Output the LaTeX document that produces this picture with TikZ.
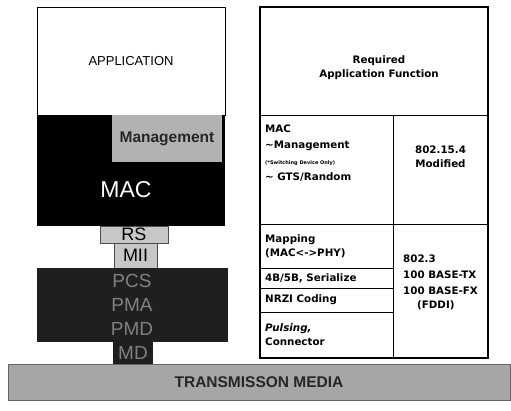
\documentclass[tikz,border=0pt]{standalone}
\usepackage{fontspec}
\setmainfont{Liberation Sans}
\newfontfamily\tabfont{DejaVu Sans}

\begin{document}
\begin{tikzpicture}[x=1pt,y=-1pt,
    box/.style={anchor=north west,inner sep=0pt,outer sep=0pt},
    cell/.style={box,draw,line width=1pt},
    celltext/.style={inner sep=0pt,align=left,font=\tabfont\bfseries\fontsize{10.3}{14}\selectfont},
    physub/.style={text=black!50,font=\fontsize{19}{19}\selectfont}]
  \useasboundingbox (0,0) rectangle (511,410);
  \node[box,draw,fill=white,minimum width=188pt,minimum height=108pt,
    font=\fontsize{13}{15}\selectfont] (app) at (37,7) {APPLICATION};
  \node[box,fill=black,minimum width=188pt,minimum height=111pt] (mac) at (37,115) {};
  \node[box,fill=black!30,text=black!85,minimum width=110pt,minimum height=47pt,
    font=\bfseries\fontsize{15.5}{17}\selectfont] (mgmt) at (112,115) {Management};
  \node[text=white,font=\fontsize{23}{23}\selectfont] (maclabel) at (126,190) {MAC};
  \node[box,draw=black!70,fill=black!22,minimum width=68pt,minimum height=17pt,
    font=\fontsize{18}{18}\selectfont] (rs) at (100,226) {RS};
  \node[box,draw=black!70,fill=black!22,minimum width=43pt,minimum height=25pt,
    font=\fontsize{18}{18}\selectfont] (mii) at (114,243) {MII};
  \node[box,fill=black!88,minimum width=191pt,minimum height=74pt] (phy) at (37,268) {};
  \node[physub] (pcs) at (132,281) {PCS};
  \node[physub] (pma) at (132,305) {PMA};
  \node[physub] (pmd) at (132,329) {PMD};
  \node[box,physub,fill=black!88,minimum width=40pt,minimum height=22pt] (md) at (113,342) {MD};
  \node[box,draw=black!60,fill=black!35,text=black!85,minimum width=502pt,minimum height=36pt,
    font=\bfseries\fontsize{15.5}{17}\selectfont] (media) at (8,364) {TRANSMISSON MEDIA};

  \node[cell,minimum width=228pt,minimum height=108pt] (hdr) at (260,7) {};
  \node[cell,minimum width=133pt,minimum height=109pt] (cmac) at (260,115) {};
  \node[cell,minimum width=95pt,minimum height=109pt] (cstda) at (393,115) {};
  \node[cell,minimum width=133pt,minimum height=44pt] (cmap) at (260,224) {};
  \node[cell,minimum width=133pt,minimum height=20pt] (cfour) at (260,268) {};
  \node[cell,minimum width=133pt,minimum height=24pt] (cnrzi) at (260,288) {};
  \node[cell,minimum width=133pt,minimum height=46pt] (cpuls) at (260,312) {};
  \node[cell,minimum width=95pt,minimum height=134pt] (cstdb) at (393,224) {};
  \draw[line width=2pt] (hdr.north west) rectangle (cstdb.south east);

  \node[celltext,align=center] (req) at ([shift={(5,7)}]hdr.center) {Required\\Application Function};
  \node[celltext,anchor=north west] (tmac) at ([shift={(5,10)}]cmac.north west)
    {MAC\\[2pt]\textasciitilde Management\\[2pt]{\fontsize{5}{6}\selectfont (*Switching Device Only)}\\[2pt]\textasciitilde\ GTS/Random};
  \node[celltext,align=center] (tstda) at ([shift={(0,-13)}]cstda.center) {802.15.4\\Modified};
  \node[celltext,anchor=west] (tmap) at ([shift={(5,0)}]cmap.west) {Mapping\\(MAC<->PHY)};
  \node[celltext,anchor=west] (tfour) at ([shift={(5,0)}]cfour.west) {4B/5B, Serialize};
  \node[celltext,anchor=west] (tnrzi) at ([shift={(5,0)}]cnrzi.west) {NRZI Coding};
  \node[celltext,anchor=west] (tpuls) at ([shift={(5,0)}]cpuls.west) {{\itshape Pulsing,}\\Connector};
  \node[celltext] (tstdb) at ([shift={(0,-9)}]cstdb.center)
    {802.3\\[2pt]100 BASE-TX\\[2pt]100 BASE-FX\\\hspace*{14pt}(FDDI)};
\end{tikzpicture}
\end{document}
